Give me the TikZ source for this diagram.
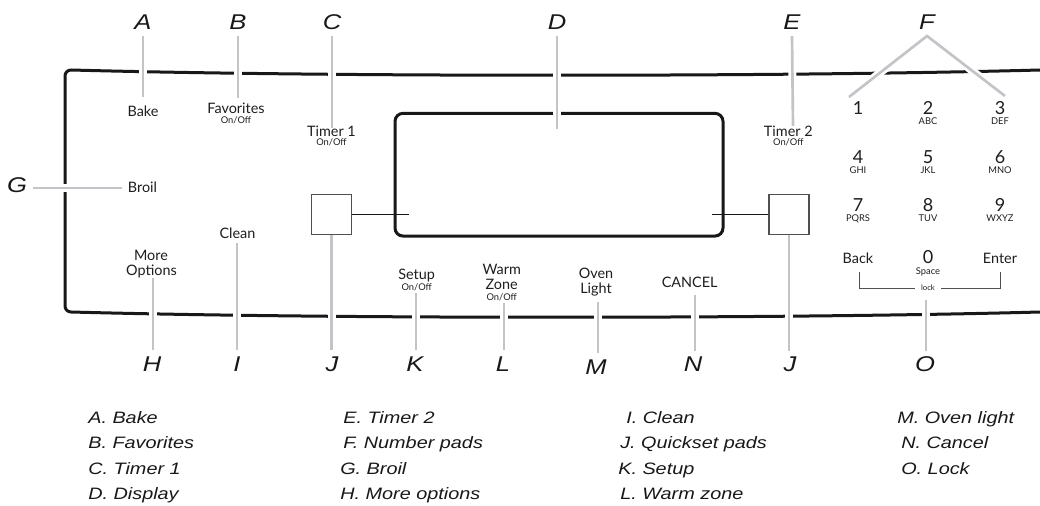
\documentclass[tikz,border=0pt]{standalone}
\usepackage{fontspec}
\setmainfont{Lato}
\newfontfamily\legfont{Liberation Sans}[FakeStretch=1.2]
\usetikzlibrary{calc}
\definecolor{ink}{RGB}{24,24,24}
\definecolor{conngray}{RGB}{196,196,200}
\definecolor{padgray}{RGB}{80,80,80}
\definecolor{labink}{RGB}{30,30,30}
\tikzset{
  panel/.style={draw=ink, line width=2.25pt},
  conn/.style={draw=conngray, line width=2pt, preaction={draw=white, line width=6pt}},
  thinline/.style={draw=ink, line width=0.7pt},
  bracket/.style={draw=padgray, line width=0.7pt},
  pad/.style={draw=padgray, line width=0.9pt, minimum size=30pt, inner sep=0pt},
  letter/.style={font=\legfont\itshape\fontsize{16}{17}\selectfont, text=ink, inner sep=0pt, outer sep=4.5pt, anchor=base},
  lab/.style={font=\fontsize{10.8}{12}\selectfont, text=labink, inner sep=0pt, anchor=base},
  sublab/.style={font=\fontsize{7}{8}\selectfont, text=labink, inner sep=0pt, anchor=base},
  digit/.style={font=\fontsize{13.5}{14}\selectfont, text=labink, inner sep=0pt, anchor=base},
  leg/.style={font=\legfont\itshape\fontsize{12.4}{13}\selectfont, text=ink, inner sep=0pt, anchor=base west}
}
\begin{document}
\begin{tikzpicture}[x=0.75pt,y=-0.75pt]
\useasboundingbox[fill=white] (0,0) rectangle (1040,506);
% panel outline
\draw[panel, line join=round] (1040,70) .. controls (780,77) and (330,77) .. (71,70)
  .. controls (67.7,70) and (65,72.7) .. (65,76) -- (65,306)
  .. controls (65,309.3) and (67.7,312) .. (71,312)
  .. controls (330,319) and (780,319) .. (1040,312);
% display
\node[panel, rounded corners=6pt, minimum width=246pt, minimum height=92pt, inner sep=0pt] (disp) at (559,174.7) {};
% quickset pads
\node[pad] (padL) at (331.7,214.3) {};
\node[pad] (padR) at (789,214.3) {};
\coordinate (dL) at (409,214.3);
\coordinate (dR) at (712,214.3);
\draw[thinline] (padL.east) -- (dL);
\draw[thinline] (dR) -- (padR.west);

% top letters
\node[letter] (A) at (143,30) {A};
\node[letter] (B) at (238,30) {B};
\node[letter] (C) at (332,30) {C};
\node[letter] (D) at (557,30) {D};
\node[letter] (E) at (792,30) {E};
\node[letter] (F) at (927,30) {F};
\node[letter] (G) at (17,193) {G};
% bottom letters
\node[letter] (H) at (152,371) {H};
\node[letter] (I) at (237,371) {I};
\node[letter] (J1) at (332,371) {J};
\node[letter] (K) at (415,371) {K};
\node[letter] (L) at (503,371) {L};
\node[letter] (M) at (596,374) {M};
\node[letter] (N) at (693,372) {N};
\node[letter] (J2) at (790,372) {J};
\node[letter] (O) at (925,372) {O};

% panel labels
\node[lab] (bake) at (143,116.7) {Bake};
\node[lab] (fav) at (236,113.3) {Favorites};
\node[sublab] (favs) at (236,123.3) {On/Off};
\node[lab] (t1) at (331.5,136.7) {Timer 1};
\node[sublab] (t1s) at (331.5,145.5) {On/Off};
\node[lab] (t2) at (788.3,136.7) {Timer 2};
\node[sublab] (t2s) at (788.3,145.5) {On/Off};
\node[lab] (broil) at (142.5,192.7) {Broil};
\node[lab] (clean) at (237.5,238.3) {Clean};
\node[lab] (more) at (151,260.7) {More};
\node[lab] (opts) at (151.5,276) {Options};
\node[lab] (setup) at (416.7,280) {Setup};
\node[sublab] (setups) at (416.7,290.7) {On/Off};
\node[lab] (warm) at (501.7,274.3) {Warm};
\node[lab] (zone) at (501.7,290) {Zone};
\node[sublab] (zones) at (501.7,300.7) {On/Off};
\node[lab] (oven) at (596,278.3) {Oven};
\node[lab] (light) at (596,293.3) {Light};
\node[lab] (cancel) at (689.7,287.3) {CANCEL};
% keypad
\node[digit] (k1) at (858,114.3) {1};
\node[digit] (k2) at (928,114.3) {2};
\node[sublab] (k2s) at (928,124.5) {ABC};
\node[digit] (k3) at (1000,114.3) {3};
\node[sublab] (k3s) at (1000,124.5) {DEF};
\node[digit] (k4) at (858,163.3) {4};
\node[sublab] (k4s) at (858,173.3) {GHI};
\node[digit] (k5) at (928,163.3) {5};
\node[sublab] (k5s) at (928,173.3) {JKL};
\node[digit] (k6) at (1000,163.3) {6};
\node[sublab] (k6s) at (1000,173.3) {MNO};
\node[digit] (k7) at (858,211.7) {7};
\node[sublab] (k7s) at (858,221.7) {PQRS};
\node[digit] (k8) at (928,211.7) {8};
\node[sublab] (k8s) at (928,221.7) {TUV};
\node[digit] (k9) at (1000,211.7) {9};
\node[sublab] (k9s) at (1000,221.7) {WXYZ};
\node[lab] (back) at (858,263.3) {Back};
\node[digit] (k0) at (928,263.3) {0};
\node[sublab] (space) at (928,275) {Space};
\node[lab] (enter) at (1000,263.3) {Enter};
\node[sublab, font=\fontsize{5.8}{6}\selectfont] (lock) at (928,290.3) {lock};
\coordinate (lb1) at (859,272);
\coordinate (lb2) at (859,288.3);
\coordinate (lb3) at (915,288.3);
\coordinate (rb1) at (1000,272);
\coordinate (rb2) at (1000,288.3);
\coordinate (rb3) at (941,288.3);
\draw[bracket] (lb1) -- (lb2) -- (lb3);
\draw[bracket] (rb1) -- (rb2) -- (rb3);

% connector ends
\coordinate (cA) at (143,97);
\coordinate (cB) at (238,98);
\coordinate (cC) at (332,128);
\coordinate (cD) at (557,129);
\coordinate (cE) at (793,126);
\coordinate (cFl) at (849,97);
\coordinate (cFr) at (1005,96);
\coordinate (cG) at (122,188);
\coordinate (cH) at (153,278);
\coordinate (cI) at (237,243);
\coordinate (cK) at (416,293);
\coordinate (cL) at (504,303);
\coordinate (cM) at (598,302);
\coordinate (cN) at (695,295);
\coordinate (cO) at (926,300);

% connectors
\draw[conn] (A.south) -- (cA);
\draw[conn] (B.south) -- (cB);
\draw[conn] (C.south) -- (cC);
\draw[conn] (D.south) -- (cD);
\draw[conn] (E.south) -- (cE);
\draw[conn, line join=miter] (cFl) -- (F.south) -- (cFr);
\draw[conn] (G.east |- cG) -- (cG);
\draw[conn] (cH) -- (cH |- H.north);
\draw[conn] (cI) -- (cI |- I.north);
\draw[conn] (padL.south) -- (padL.south |- J1.north);
\draw[conn] (cK) -- (cK |- K.north);
\draw[conn] (cL) -- (cL |- L.north);
\draw[conn] (cM) -- (cM |- M.north);
\draw[conn] (cN) -- (cN |- N.north);
\draw[conn] (padR.south) -- (padR.south |- J2.north);
\draw[conn] (cO) -- (cO |- O.north);

% legend
\node[leg] (lA) at (88,423.3) {A. Bake};
\node[leg] (lB) at (88,448.6) {B. Favorites};
\node[leg] (lC) at (88,474) {C. Timer 1};
\node[leg] (lD) at (88,499.3) {D. Display};
\node[leg] (lE) at (343,423.3) {E. Timer 2};
\node[leg] (lF) at (343,448.6) {F. Number pads};
\node[leg] (lG) at (340,474) {G. Broil};
\node[leg] (lH) at (340,499.3) {H. More options};
\node[leg] (lI) at (626,423.3) {I. Clean};
\node[leg] (lJ) at (620,448.6) {J. Quickset pads};
\node[leg] (lK) at (618,474) {K. Setup};
\node[leg] (lL) at (620,499.3) {L. Warm zone};
\node[leg] (lM) at (897,423.3) {M. Oven light};
\node[leg] (lN) at (901,448.6) {N. Cancel};
\node[leg] (lO) at (901,474) {O. Lock};
\end{tikzpicture}
\end{document}
